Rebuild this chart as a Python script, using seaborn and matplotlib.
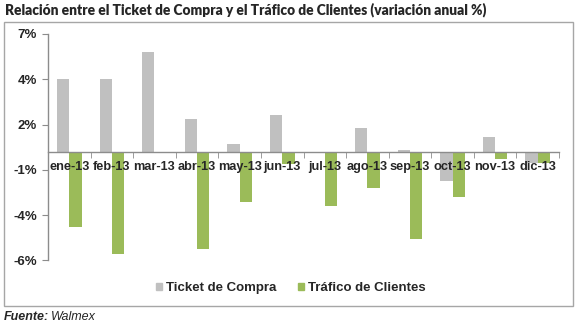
import matplotlib
matplotlib.use("Agg")
import matplotlib.pyplot as plt
import matplotlib.patches as mpatches
from matplotlib.ticker import FixedLocator
import seaborn as sns
import pandas as pd
import numpy as np

# Data
meses = ['ene-13', 'feb-13', 'mar-13', 'abr-13', 'may-13', 'jun-13',
         'jul-13', 'ago-13', 'sep-13', 'oct-13', 'nov-13', 'dic-13']
ticket = [4.0, 4.0, 5.5, 1.8, 0.4, 2.0, -0.1, 1.3, 0.1, -1.6, 0.8, -0.65]
trafico = [-4.15, -5.65, -0.1, -5.35, -2.8, -0.7, -3.0, -2.0, -4.85, -2.5, -0.4, -0.65]
series = ['Ticket de Compra', 'Tráfico de Clientes']
y_ticks = [-6, -3.5, -1, 1.5, 4, 6.5]
y_labels = ['-6%', '-4%', '-1%', '2%', '4%', '7%']

df = pd.DataFrame({'Mes': meses * 2,
                   'Valor': ticket + trafico,
                   'Serie': [series[0]] * len(meses) + [series[1]] * len(meses)})

sns.set_style("white")
plt.rcParams['font.family'] = ['Liberation Sans', 'DejaVu Sans']

fig = plt.figure(figsize=(5.79, 3.25), dpi=100)
ax = fig.add_axes([48 / 579, 1 - 260.3 / 325, (559 - 48) / 579, (260.3 - 34) / 325])

sns.barplot(data=df, x='Mes', y='Valor', hue='Serie', order=meses, hue_order=series,
            palette=['#C0C0C0', '#9BBB59'], width=0.58, linewidth=0, saturation=1,
            ax=ax)

ax.set_ylim(-6, 6.5)
ax.set_xlim(-0.5, len(meses) - 0.5)
ax.set_yticks(y_ticks)
ax.set_yticklabels(y_labels, fontsize=9.5, fontweight='bold')
ax.set_xlabel('')
ax.set_ylabel('')

# x axis at zero with labels right under it, drawn over the bars
ax.spines['bottom'].set_position(('data', 0))
ax.spines['top'].set_visible(False)
ax.spines['right'].set_visible(False)
for s in ['bottom', 'left']:
    ax.spines[s].set_color('#8C8C8C')
    ax.spines[s].set_linewidth(1)
    ax.spines[s].set_zorder(5)
ax.xaxis.set_zorder(6)
ax.xaxis.set_minor_locator(FixedLocator(np.arange(-0.5, len(meses), 1)))
ax.tick_params(axis='x', which='major', length=0, pad=7, labelsize=9.2)
ax.tick_params(axis='x', which='minor', length=4, color='#8C8C8C', direction='out', bottom=True)
ax.tick_params(axis='y', length=4, color='#8C8C8C', direction='out', left=True, pad=4)
for lbl in ax.get_xticklabels():
    lbl.set_fontweight('bold')

# legend
ax.get_legend().remove()
handles = [mpatches.Patch(color='#C0C0C0', label=series[0]),
           mpatches.Patch(color='#9BBB59', label=series[1])]
fig.legend(handles=handles, loc='center', bbox_to_anchor=(291 / 579, 1 - 288 / 325),
           ncol=2, frameon=False, handlelength=0.45, handleheight=0.45,
           handletextpad=0.35, columnspacing=1.6,
           prop={'weight': 'bold', 'size': 9.5})

# chart border
fig.patches.append(mpatches.Rectangle((4 / 579, 1 - 306 / 325), 569 / 579, 284 / 325,
                                      transform=fig.transFigure, fill=False,
                                      edgecolor='#A6A6A6', linewidth=1))

fig.text(5 / 579, 1 - 10 / 325, 'Relación entre el Ticket de Compra y el Tráfico de Clientes (variación anual %)',
         fontsize=9.9, fontweight='heavy', family=['Lato', 'DejaVu Sans'], va='center', ha='left')
fig.text(4 / 579, 1 - 316.5 / 325, 'Fuente:', fontsize=9, fontweight='bold', style='italic',
         va='center', ha='left')
fig.text(51 / 579, 1 - 316.5 / 325, 'Walmex', fontsize=9, style='italic', va='center', ha='left')

fig.savefig('out.png', dpi=100)
